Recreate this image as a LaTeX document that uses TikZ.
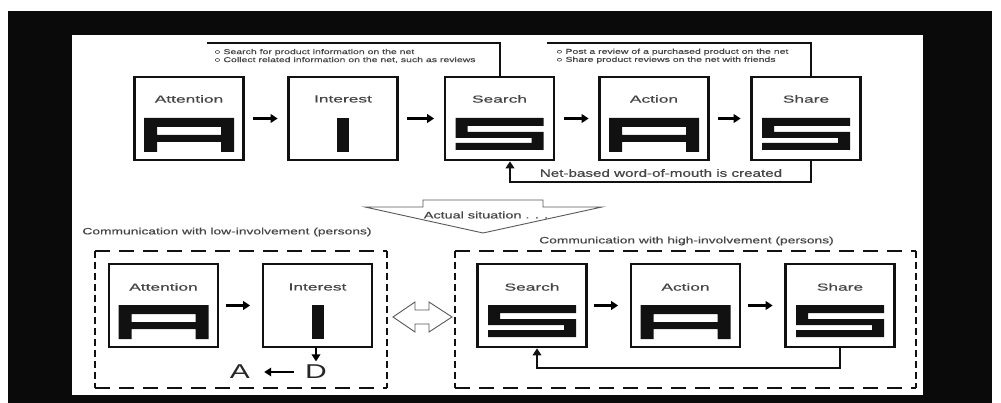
\documentclass[tikz,border=0pt]{standalone}
\usepackage{fontspec}
\setmainfont{Liberation Sans}
\newfontfamily\labfont[FakeStretch=1.7,FakeBold=0.6]{Liberation Sans}
\newfontfamily\txtfont[FakeStretch=1.5,FakeBold=0.4]{Liberation Sans}
\newfontfamily\netfont[FakeStretch=1.42,FakeBold=0.6]{Liberation Sans}
\newfontfamily\bigfont[FakeStretch=1.5]{Liberation Sans}
\usetikzlibrary{arrows.meta}
\definecolor{txtgray}{HTML}{454545}
\definecolor{ink}{HTML}{111111}
\newcommand\glyphA[1]{\begin{scope}[shift={(#1)}]
  \fill[glyph] (-45,33.5) -- (-45,-0.5) -- (45,-0.5) -- (45,33.5) -- (32,33.5) -- (32,23.5) -- (-32,23.5) -- (-32,33.5) -- cycle (-32,8.5) rectangle (32,16.5);
\end{scope}}
\newcommand\glyphI[1]{\begin{scope}[shift={(#1)}]
  \fill[glyph] (-6,-0.5) rectangle (6,33.5);
\end{scope}}
\newcommand\glyphS[1]{\begin{scope}[shift={(#1)}]
  \fill[glyph] (-44,-0.5) -- (44,-0.5) -- (44,7.5) -- (-32,7.5) -- (-32,13.5) -- (44,13.5) -- (44,31.5) -- (-44,31.5) -- (-44,24.5) -- (32,24.5) -- (32,19.5) -- (-44,19.5) -- cycle;
\end{scope}}
\tikzset{
  stage/.style={draw=ink, line width=2.6pt, minimum width=109pt, minimum height=83pt, inner sep=0pt},
  lab/.style={font=\labfont\fontsize{10.2}{12}\selectfont, text=txtgray, inner sep=0pt},
  small/.style={font=\txtfont\fontsize{7}{8}\selectfont, text=txtgray, inner sep=0pt, align=left},
  title/.style={font=\txtfont\fontsize{9.2}{11}\selectfont, text=txtgray, inner sep=0pt},
  big/.style={font=\bigfont\fontsize{20}{22}\selectfont, text=black!85, inner sep=0pt},
  tip/.style={-{Triangle[length=7pt,width=8.5pt]}},
  flowtop/.style={line width=2.2pt, tip, shorten <=8.5pt, shorten >=9.5pt},
  flowbot/.style={line width=2.2pt, tip, shorten <=6.5pt, shorten >=11.5pt},
  glyph/.style={fill=ink, even odd rule},
  loopline/.style={line width=2pt, draw=ink},
  dashh/.style={line width=2.6pt, draw=ink, dash pattern=on 15pt off 9pt},
  dashv/.style={line width=2.6pt, draw=ink, dash pattern=on 7pt off 4pt},
  hollow/.style={draw=black!65, line width=0.9pt, fill=white, line join=miter},
}
\begin{document}
\begin{tikzpicture}[x=1pt,y=-1pt]
\useasboundingbox (0,0) rectangle (1001,403);
% frame
\fill[white] (0,0) rectangle (1001,403);
\fill[black!96] (8,11) rectangle (992,403);
\fill[white] (72,35) rectangle (923,395);

% ---------------- top row ----------------
\node[stage] (t1) at (189,118.5) {};
\node[stage] (t2) at (343,118.5) {};
\node[stage] (t3) at (499.5,118.5) {};
\node[stage] (t4) at (654,118.5) {};
\node[stage] (t5) at (806,118.5) {};
\node[lab] (t1l) at ([yshift=19.5pt]t1.center) {Attention};
\node[lab] (t2l) at ([yshift=19.5pt]t2.center) {Interest};
\node[lab] (t3l) at ([yshift=19.5pt]t3.center) {Search};
\node[lab] (t4l) at ([yshift=19.5pt]t4.center) {Action};
\node[lab] (t5l) at ([yshift=19.5pt]t5.center) {Share};
\glyphA{t1.center}
\glyphI{t2.center}
\glyphS{t3.center}
\glyphA{t4.center}
\glyphS{t5.center}
\draw[flowtop] (t1) -- (t2);
\draw[flowtop] (t2) -- (t3);
\draw[flowtop] (t3) -- (t4);
\draw[flowtop] (t4) -- (t5);

% brackets with notes
\coordinate (b1) at (207,43);
\coordinate (b2) at (547,43);
\draw[loopline] (b1) -| (t3.north);
\draw[loopline] (b2) -| ([xshift=5pt]t5.north);
\node[small, anchor=west] (n1) at (214,56) {○ Search for product information on the net\\○ Collect related information on the net, such as reviews};
\node[small, anchor=west] (n2) at (556,56) {○ Post a review of a purchased product on the net\\○ Share product reviews on the net with friends};

% word-of-mouth loop
\coordinate (fbR) at (811,182);
\coordinate (fbL) at (510,182);
\draw[loopline, tip] (t5.south -| fbR) -- (fbR) -- (fbL) -- (fbL |- t3.south);
\node[font=\netfont\fontsize{10.7}{12}\selectfont, text=txtgray, inner sep=0pt] (wom) at (661,173) {Net-based word-of-mouth is created};

% big down arrow
\draw[hollow] (423,200) -- (543,200) -- (543,207) -- (602,207) -- (483,233) -- (365,207) -- (423,207) -- cycle;
\node[font=\txtfont\fontsize{9.6}{11}\selectfont, text=txtgray, inner sep=0pt] (act) at (486,215) {Actual situation . . .};

% ---------------- bottom ----------------
\node[title] (lt) at (227,232) {Communication with low-involvement (persons)};
\node[title] (rt) at (686.5,241) {Communication with high-involvement (persons)};
\draw[dashh] (95,251) -- (387,251);
\draw[dashh] (95,388) -- (387,388);
\draw[dashv] (95,251) -- (95,388);
\draw[dashv] (387,251) -- (387,388);
\draw[dashh] (455,251) -- (916,251);
\draw[dashh] (455,388) -- (916,388);
\draw[dashv] (455,251) -- (455,388);
\draw[dashv] (916,251) -- (916,388);

\node[stage] (s1) at (163.5,305.5) {};
\node[stage] (s2) at (317.5,305.5) {};
\node[stage] (s3) at (532,305.5) {};
\node[stage] (s4) at (685.5,305.5) {};
\node[stage] (s5) at (840,305.5) {};
\node[lab] (s1l) at ([yshift=18.5pt]s1.center) {Attention};
\node[lab] (s2l) at ([yshift=18.5pt]s2.center) {Interest};
\node[lab] (s3l) at ([yshift=18.5pt]s3.center) {Search};
\node[lab] (s4l) at ([yshift=18.5pt]s4.center) {Action};
\node[lab] (s5l) at ([yshift=18.5pt]s5.center) {Share};
\glyphA{s1.center}
\glyphI{s2.center}
\glyphS{s3.center}
\glyphA{s4.center}
\glyphS{s5.center}
\draw[flowbot] (s1) -- (s2);
\draw[flowbot] (s3) -- (s4);
\draw[flowbot] (s4) -- (s5);

\coordinate (bR) at (840,368);
\coordinate (bL) at (537,368);
\draw[loopline, tip] (s5.south -| bR) -- (bR) -- (bL) -- (bL |- s3.south);

% A <- D
\node[big] (D) at (316,372) {D};
\node[big] (A) at (240,372) {A};
\draw[line width=2.2pt, tip, shorten >=3.5pt] (s2.south -| D) -- (D.north);
\draw[line width=2.2pt, tip, shorten <=11pt, shorten >=14pt] (D.west) -- (A.east);

% double arrow
\draw[hollow] (393,317) -- (415,302) -- (415,310) -- (429,310) -- (429,302) -- (452,317) -- (429,332) -- (429,324) -- (415,324) -- (415,332) -- cycle;
\end{tikzpicture}
\end{document}
